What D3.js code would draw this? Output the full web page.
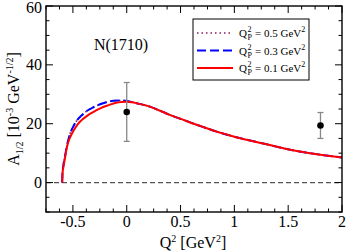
<!DOCTYPE html>
<html>
<head>
<meta charset="utf-8">
<script src="https://cdn.jsdelivr.net/npm/d3@7"></script>
<style>
  body { margin: 0; background: #fff; }
</style>
</head>
<body>
<svg id="chart" width="346" height="251"></svg>
<script>
const xTicks = [-0.5, 0, 0.5, 1, 1.5, 2]
const yTicks = [0, 20, 40, 60]

// Q_P^2 = 0.1 GeV^2 (red solid)
const q2Red = [-0.6, -0.597, -0.592, -0.586, -0.575, -0.564, -0.545, -0.518, -0.496, -0.456, -0.403, -0.378, -0.33, -0.285, -0.24, -0.193, -0.155, -0.1, -0.05, 0, 0.05, 0.1, 0.216, 0.31, 0.4, 0.526, 0.7, 0.836, 1.0, 1.145, 1.3, 1.486, 1.7, 1.85, 2.0]
const aRed = [0, 3, 4.5, 5.8, 8, 10.5, 13.5, 16, 17.5, 19.8, 21.7, 22.4, 23.6, 24.5, 25.3, 26, 26.5, 27.1, 27.4, 27.5, 27.3, 26.9, 25.8, 24.4, 23.0, 21.3, 19.0, 17.3, 15.6, 14.3, 13.0, 11.4, 10.0, 9.2, 8.5]

// Q_P^2 = 0.3 GeV^2 (blue dashed), joins the red curve above ~0.1
const q2Blue = [-0.6, -0.596, -0.588, -0.573, -0.55, -0.527, -0.5, -0.465, -0.42, -0.372, -0.31, -0.248, -0.19, -0.125, -0.06, 0, 0.05, 0.1, 0.216, 0.31, 0.4, 0.526, 0.7, 0.836, 1.0, 1.145, 1.3, 1.486, 1.7, 1.85, 2.0]
const aBlue = [0, 3.5, 6, 9, 13.5, 16.5, 18.8, 21, 22.8, 24.3, 25.6, 26.6, 27.3, 27.8, 27.9, 27.7, 27.3, 26.9, 25.8, 24.4, 23.0, 21.3, 19.0, 17.3, 15.6, 14.3, 13.0, 11.4, 10.0, 9.2, 8.5]

// Q_P^2 = 0.5 GeV^2 (purple dotted), practically on top of the blue one
const q2Purple = q2Blue
const aPurple = [0, 3.6, 6.1, 9.1, 13.6, 16.6, 18.9, 21, 22.8, 24.3, 25.6, 26.6, 27.3, 27.8, 27.9, 27.7, 27.3, 26.9, 25.8, 24.4, 23.0, 21.3, 19.0, 17.3, 15.6, 14.3, 13.0, 11.4, 10.0, 9.2, 8.5]

// experimental points
const expQ2 = [0, 1.8]
const expA = [24, 19.4]
const expLo = [14, 15.0]
const expHi = [34, 23.8]

const legendLabels = ['0.5', '0.3', '0.1']

const svg = d3.select('#chart')
const mLeft = 46, mRight = 342, mTop = 6, mBottom = 212
const serif = "'Times New Roman', 'Liberation Serif', 'DejaVu Serif', serif"

const x = d3.scaleLinear().domain([-0.75, 2]).range([mLeft, mRight])
const y = d3.scaleLinear().domain([-10, 60]).range([mBottom, mTop])

// zero line
svg.append('line')
  .attr('x1', mLeft).attr('x2', mRight)
  .attr('y1', y(0)).attr('y2', y(0))
  .attr('stroke', '#555').attr('stroke-width', 1.3)
  .attr('stroke-dasharray', '5,3')

const line = d3.line()
  .x(d => x(d[0]))
  .y(d => y(d[1]))
  .curve(d3.curveMonotoneX)

const zip = (a, b) => a.map((v, i) => [v, b[i]])

svg.append('path')
  .datum(zip(q2Purple, aPurple))
  .attr('d', line)
  .attr('fill', 'none').attr('stroke', '#8b1a5c').attr('stroke-width', 1.6)
  .attr('stroke-dasharray', '1.5,3')

svg.append('path')
  .datum(zip(q2Blue, aBlue))
  .attr('d', line)
  .attr('fill', 'none').attr('stroke', '#0000ff').attr('stroke-width', 2)
  .attr('stroke-dasharray', '9,4')

svg.append('path')
  .datum(zip(q2Red, aRed))
  .attr('d', line)
  .attr('fill', 'none').attr('stroke', '#ff0000').attr('stroke-width', 2)

// error bars
const pts = expQ2.map((q, i) => ({ q, a: expA[i], lo: expLo[i], hi: expHi[i] }))
const eb = svg.append('g').attr('stroke', '#888').attr('stroke-width', 1.3)
pts.forEach(d => {
  eb.append('line').attr('x1', x(d.q)).attr('x2', x(d.q)).attr('y1', y(d.lo)).attr('y2', y(d.hi))
  eb.append('line').attr('x1', x(d.q) - 3).attr('x2', x(d.q) + 3).attr('y1', y(d.lo)).attr('y2', y(d.lo))
  eb.append('line').attr('x1', x(d.q) - 3).attr('x2', x(d.q) + 3).attr('y1', y(d.hi)).attr('y2', y(d.hi))
})
svg.selectAll('circle.pt')
  .data(pts)
  .enter()
  .append('circle')
  .attr('cx', d => x(d.q))
  .attr('cy', d => y(d.a))
  .attr('r', 3.3)
  .attr('fill', '#000')

// frame + inward ticks on all sides
const tickGroup = svg.append('g').attr('stroke', '#000').attr('stroke-width', 1)
const xMinor = d3.range(-0.75, 2.0001, 0.125).filter(v => !xTicks.some(t => Math.abs(t - v) < 1e-6))
const yMinor = d3.range(-10, 60.001, 5).filter(v => !yTicks.some(t => Math.abs(t - v) < 1e-6))
xTicks.forEach(t => {
  tickGroup.append('line').attr('x1', x(t)).attr('x2', x(t)).attr('y1', mBottom).attr('y2', mBottom - 7)
  tickGroup.append('line').attr('x1', x(t)).attr('x2', x(t)).attr('y1', mTop).attr('y2', mTop + 7)
})
xMinor.forEach(t => {
  tickGroup.append('line').attr('x1', x(t)).attr('x2', x(t)).attr('y1', mBottom).attr('y2', mBottom - 3.5)
  tickGroup.append('line').attr('x1', x(t)).attr('x2', x(t)).attr('y1', mTop).attr('y2', mTop + 3.5)
})
yTicks.forEach(t => {
  tickGroup.append('line').attr('x1', mLeft).attr('x2', mLeft + 7).attr('y1', y(t)).attr('y2', y(t))
  tickGroup.append('line').attr('x1', mRight).attr('x2', mRight - 7).attr('y1', y(t)).attr('y2', y(t))
})
yMinor.forEach(t => {
  tickGroup.append('line').attr('x1', mLeft).attr('x2', mLeft + 3.5).attr('y1', y(t)).attr('y2', y(t))
  tickGroup.append('line').attr('x1', mRight).attr('x2', mRight - 3.5).attr('y1', y(t)).attr('y2', y(t))
})
svg.append('rect')
  .attr('x', mLeft).attr('y', mTop)
  .attr('width', mRight - mLeft).attr('height', mBottom - mTop)
  .attr('fill', 'none').attr('stroke', '#000').attr('stroke-width', 1.4)

// tick labels
svg.selectAll('text.xl')
  .data(xTicks)
  .enter()
  .append('text')
  .style('font-family', serif)
  .attr('x', d => x(d))
  .attr('y', 227)
  .attr('text-anchor', 'middle')
  .attr('font-size', 16)
  .text(d => d)
svg.selectAll('text.yl')
  .data(yTicks)
  .enter()
  .append('text')
  .style('font-family', serif)
  .attr('x', 42)
  .attr('y', d => Math.max(y(d) + 5.5, 13))
  .attr('text-anchor', 'end')
  .attr('font-size', 16)
  .text(d => d)

// axis titles
const xt = svg.append('text').style('font-family', serif)
  .attr('x', 193).attr('y', 248).attr('text-anchor', 'middle').attr('font-size', 16)
xt.append('tspan').text('Q')
xt.append('tspan').attr('dy', -6).attr('font-size', 10).text('2')
xt.append('tspan').attr('dy', 6).text(' [GeV')
xt.append('tspan').attr('dy', -6).attr('font-size', 10).text('2')
xt.append('tspan').attr('dy', 6).text(']')

const yt = svg.append('text').style('font-family', serif)
  .attr('transform', 'translate(19,109) rotate(-90)')
  .attr('text-anchor', 'middle')
  .attr('font-size', 16)
yt.append('tspan').text('A')
yt.append('tspan').attr('dy', 4).attr('font-size', 10).text('1/2')
yt.append('tspan').attr('dy', -4).text(' [10')
yt.append('tspan').attr('dy', -6).attr('font-size', 10).text('-3')
yt.append('tspan').attr('dy', 6).text(' GeV')
yt.append('tspan').attr('dy', -6).attr('font-size', 10).text('-1/2')
yt.append('tspan').attr('dy', 6).text(']')

svg.append('text').style('font-family', serif)
  .attr('x', 121).attr('y', 50).attr('text-anchor', 'middle').attr('font-size', 16).text('N(1710)')

// legend
const lg = svg.append('g')
lg.append('rect')
  .attr('x', 193).attr('y', 19).attr('width', 116).attr('height', 61)
  .attr('fill', '#fff').attr('stroke', '#000').attr('stroke-width', 1)
const legendStyles = [
  { color: '#8b1a5c', dash: '1.5,3', w: 1.6 },
  { color: '#0000ff', dash: '9,4', w: 2 },
  { color: '#ff0000', dash: null, w: 2 }
]
legendLabels.forEach((lab, i) => {
  const yy = 33 + i * 17.5
  const st = legendStyles[i]
  lg.append('line')
    .attr('x1', 197).attr('x2', 233).attr('y1', yy).attr('y2', yy)
    .attr('stroke', st.color).attr('stroke-width', st.w)
    .attr('stroke-dasharray', st.dash)
  const tx = 239
  lg.append('text').style('font-family', serif).attr('x', tx).attr('y', yy + 4).attr('font-size', 11).text('Q')
  lg.append('text').style('font-family', serif).attr('x', tx + 8.5).attr('y', yy - 1).attr('font-size', 8).text('2')
  lg.append('text').style('font-family', serif).attr('x', tx + 8.5).attr('y', yy + 7).attr('font-size', 8).text('P')
  const t = lg.append('text').style('font-family', serif).attr('x', tx + 16).attr('y', yy + 4).attr('font-size', 11)
  t.append('tspan').text('= ' + lab + ' GeV')
  t.append('tspan').attr('dy', -5).attr('font-size', 8).text('2')
})
</script>
</body>
</html>
